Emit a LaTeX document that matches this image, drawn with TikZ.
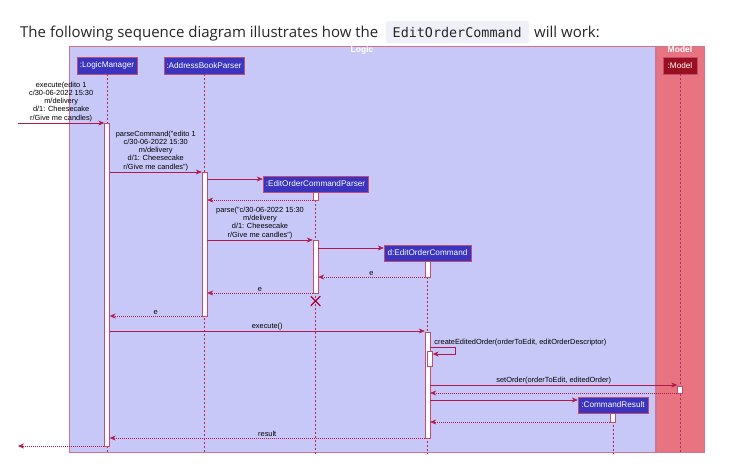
\documentclass[tikz,border=0pt]{standalone}
\usepackage{fontspec}
\setmainfont{Liberation Sans}
\setmonofont{DejaVu Sans Mono}
\newfontfamily\titlefont{Open Sans}
\usetikzlibrary{arrows.meta,positioning}

\definecolor{umlred}{HTML}{A80036}
\definecolor{logicfill}{HTML}{C8C8F8}
\definecolor{partblue}{HTML}{3B34BE}
\definecolor{modelfill}{HTML}{E87482}
\definecolor{modelpart}{HTML}{9A0F1F}
\definecolor{codefill}{HTML}{F0F0F8}

\begin{document}
\begin{tikzpicture}[x=1pt,y=-1pt,
    cross/.style={path picture={ \draw[umlred, line width=1.1pt] (path picture bounding box.south east) -- (path picture bounding box.north west) (path picture bounding box.south west) -- (path picture bounding box.north east);}}]
    \tikzstyle{titletext}=[font=\titlefont\fontsize{15}{18}\selectfont, text=black!85, inner sep=0pt]
    \tikzstyle{codebox}=[font=\ttfamily\fontsize{13.4}{16}\selectfont, fill=codefill, rounded corners=2pt, inner xsep=7pt, minimum height=22pt, text=black!85]
    \tikzstyle{logicframe}=[rectangle, draw=umlred!55, fill=logicfill, line width=0.8pt]
    \tikzstyle{modelframe}=[rectangle, draw=umlred!55, fill=modelfill, line width=0.8pt]
    \tikzstyle{grouplbl}=[font=\bfseries\fontsize{8.5}{9}\selectfont, text=white, inner sep=0pt]
    \tikzstyle{part}=[rectangle, draw=umlred!70, fill=partblue, text=white, font=\fontsize{8.2}{9}\selectfont, inner sep=0pt, minimum height=17pt]
    \tikzstyle{act}=[rectangle, draw=umlred!70, fill=white, minimum width=5pt, inner sep=0pt]
    \tikzstyle{life}=[umlred!85, dash pattern=on 2pt off 2pt, line width=0.5pt]
    \tikzstyle{msg}=[umlred!90, -{Stealth[length=6pt,width=5pt,inset=2pt]}, line width=0.55pt]
    \tikzstyle{ret}=[msg, dash pattern=on 1pt off 1pt]
    \tikzstyle{lbl}=[font=\fontsize{7.4}{8.2}\selectfont, text=black, align=center, inner sep=1pt]

      \useasboundingbox[fill=white] (0,0) rectangle (729,474);

      % heading line
      \node[titletext, anchor=base west] (title) at (20,37) {The following sequence diagram illustrates how the};
      \node[codebox, right=7pt of title.base east, anchor=base west] (code) {EditOrderCommand};
      \node[titletext, right=5pt of code.base east, anchor=base west] (titleend) {will work:};

      % groups
      \node[logicframe, minimum width=586pt, minimum height=406pt] (logic) at (362,249) {};
      \node[grouplbl, below=1pt of logic.north] (logiclbl) {Logic};
      \node[modelframe, minimum width=48pt, minimum height=406pt] (modelgrp) at (680,249) {};
      \node[grouplbl, below=1pt of modelgrp.north] (modellbl) {Model};

      % participants
      \node[part, minimum width=60pt] (lm) at (107,65.5) {:LogicManager};
      \node[part, minimum width=80pt] (abp) at (204,65.5) {:AddressBookParser};
      \node[part, minimum width=105pt, minimum height=16pt] (eocp) at (315.5,184) {:EditOrderCommandParser};
      \node[part, minimum width=87pt, minimum height=16pt] (eoc) at (427.5,253) {d:EditOrderCommand};
      \node[part, minimum width=70pt, minimum height=16pt] (cr) at (613,405) {:CommandResult};
      \node[part, minimum width=34pt, fill=modelpart] (model) at (680,65.5) {:Model};

      % lifelines
      \foreach \p in {lm,abp,eocp,eoc,cr,model}
        \draw[life] (\p.south) -- (\p.south |- 0,454);

      % activations
      \node[act, minimum height=323pt] (lmA) at (107,284.5) {};
      \node[act, minimum height=144pt] (abpA) at (204.5,244) {};
      \node[act, minimum height=8pt] (eocpA1) at (315.5,196) {};
      \node[act, minimum height=53pt] (eocpA2) at (315.5,266.5) {};
      \node[act, minimum height=16pt] (eocA1) at (427.5,269) {};
      \node[act, minimum height=106pt] (eocA2) at (427.5,385) {};
      \node[act, minimum height=15pt] (eocA3) at (430,358.5) {};
      \node[act, minimum height=7pt] (modelA) at (680,389.5) {};
      \node[act, minimum height=9pt] (crA) at (612.5,417.5) {};
      \node[cross, minimum size=10pt, inner sep=0pt] (eocpX) at (315.5,301) {};

      \coordinate (entry) at (18,123);
      \coordinate (exit) at (18,446);

      % messages
      \draw[msg] (entry) -- (lmA.west |- entry)
        node[lbl, midway, above] {execute(edito 1\\c/30-06-2022 15:30\\m/delivery\\d/1: Cheesecake\\r/Give me candles)};
      \draw[msg] (lmA.east |- 0,172) -- (abpA.west |- 0,172)
        node[lbl, midway, above] {parseCommand("edito 1\\c/30-06-2022 15:30\\m/delivery\\d/1: Cheesecake\\r/Give me candles")};
      \draw[msg] (abpA.east |- 0,179) -- (eocp.west |- 0,179);
      \draw[ret] (eocpA1.west |- 0,200) -- (abpA.east |- 0,200);
      \draw[msg] (abpA.east |- 0,240) -- (eocpA2.west |- 0,240)
        node[lbl, midway, above] {parse("c/30-06-2022 15:30\\m/delivery\\d/1: Cheesecake\\r/Give me candles")};
      \draw[msg] (eocpA2.east |- 0,248) -- (eoc.west |- 0,248);
      \draw[ret] (eocA1.west |- 0,277) -- (eocpA2.east |- 0,277) node[lbl, midway, above] {e};
      \draw[ret] (eocpA2.west |- 0,293) -- (abpA.east |- 0,293) node[lbl, midway, above] {e};
      \draw[ret] (abpA.west |- 0,316) -- (lmA.east |- 0,316) node[lbl, midway, above] {e};
      \draw[msg] (lmA.east |- 0,331) -- (eocA2.west |- 0,331) node[lbl, midway, above] {execute()};
      \draw[msg] (eocA2.east |- 0,347) node[lbl, above right, xshift=3pt] {createEditedOrder(orderToEdit, editOrderDescriptor)}
        -- ++(25,0) |- (eocA3.east |- 0,354);
      \draw[msg] (eocA2.east |- 0,385) -- (modelA.west |- 0,385)
        node[lbl, midway, above] {setOrder(orderToEdit, editedOrder)};
      \draw[ret] (modelA.west |- 0,393) -- (eocA2.east |- 0,393);
      \draw[msg] (eocA2.east |- 0,400) -- (cr.west |- 0,400);
      \draw[ret] (crA.west |- 0,422) -- (eocA2.east |- 0,422);
      \draw[ret] (eocA2.west |- 0,438) -- (lmA.east |- 0,438) node[lbl, midway, above] {result};
      \draw[ret] (lmA.west |- 0,446) -- (exit);
    \end{tikzpicture}
\end{document}
